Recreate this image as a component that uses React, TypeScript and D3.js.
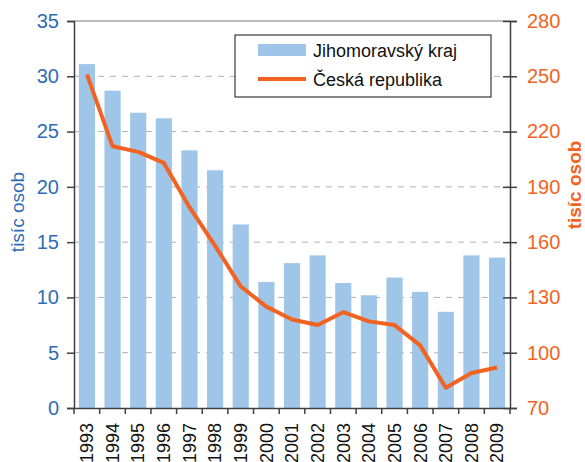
import { useEffect, useRef } from "react"
import { axisBottom, axisLeft, axisRight, scaleBand, scaleLinear, select, line } from "d3"

const years = ["1993", "1994", "1995", "1996", "1997", "1998", "1999", "2000", "2001",
  "2002", "2003", "2004", "2005", "2006", "2007", "2008", "2009"]
const jihomoravsky = [31.1, 28.7, 26.7, 26.2, 23.3, 21.5, 16.6, 11.4, 13.1,
  13.8, 11.3, 10.2, 11.8, 10.5, 8.7, 13.8, 13.6]
const ceskaRepublika = [251, 212, 209, 203, 179, 158, 136, 125, 118,
  115, 122, 117, 115, 104, 81, 89, 92]
const leftTicks = [0, 5, 10, 15, 20, 25, 30, 35]
const rightTicks = [70, 100, 130, 160, 190, 220, 250, 280]

const BLUE_BAR = "#9fc5e8"
const BLUE_TEXT = "#2e6cb5"
const ORANGE = "#f26322"
const FONT = "Arial, 'Liberation Sans', sans-serif"

export default function App() {
  const ref = useRef<SVGSVGElement>(null)
  const margin = { top: 21, right: 75, bottom: 54, left: 74 }
  const W = 585
  const H = 462
  const width = W - margin.left - margin.right
  const height = H - margin.top - margin.bottom

  const x = scaleBand().domain(years).range([0, width]).paddingInner(0.37).paddingOuter(0.19)
  const xOuter = scaleBand().domain(years).range([0, width])
  const yL = scaleLinear().domain([0, 35]).range([height, 0])
  const yR = scaleLinear().domain([70, 280]).range([height, 0])

  useEffect(() => {
    const svg = select(ref.current)
    svg.selectAll("*").remove()
    const g = svg.append("g").attr("transform", `translate(${margin.left},${margin.top})`)

    // gridlines
    g.append("g").selectAll("line").data(leftTicks.filter((t) => t > 0 && t < 35)).join("line")
      .attr("x1", 0).attr("x2", width)
      .attr("y1", (d) => yL(d)).attr("y2", (d) => yL(d))
      .attr("stroke", "#b0b0b0").attr("stroke-dasharray", "6,6")
    g.append("line").attr("x1", 0).attr("x2", width).attr("y1", 0).attr("y2", 0)
      .attr("stroke", "#a6a6a6").attr("stroke-width", 1.5)

    // bars
    g.append("g").selectAll("rect").data(years).join("rect")
      .attr("x", (d) => x(d)!)
      .attr("width", x.bandwidth())
      .attr("y", (_, i) => yL(jihomoravsky[i]))
      .attr("height", (_, i) => height - yL(jihomoravsky[i]))
      .attr("fill", BLUE_BAR)

    // line
    const lineGen = line<number>()
      .x((_, i) => x(years[i])! + x.bandwidth() / 2)
      .y((d) => yR(d))
    g.append("path").datum(ceskaRepublika).attr("d", lineGen)
      .attr("fill", "none").attr("stroke", ORANGE).attr("stroke-width", 4)
      .attr("stroke-linejoin", "round")

    // left axis
    const la = g.append("g").call(axisLeft(yL).tickValues(leftTicks).tickSize(7).tickPadding(8))
    la.select(".domain").attr("stroke", "#404040").attr("stroke-width", 1.5)
    la.selectAll(".tick line").attr("stroke", "#404040").attr("stroke-width", 1.5)
    la.selectAll("text").attr("fill", BLUE_TEXT).attr("font-size", 20).attr("font-family", FONT)

    // right axis
    const ra = g.append("g").attr("transform", `translate(${width},0)`)
      .call(axisRight(yR).tickValues(rightTicks).tickSize(7).tickPadding(10))
    ra.select(".domain").attr("stroke", "#404040").attr("stroke-width", 1.5)
    ra.selectAll(".tick line").attr("stroke", "#404040").attr("stroke-width", 1.5).attr("x1", -7)
    ra.selectAll("text").attr("fill", ORANGE).attr("font-size", 20).attr("font-family", FONT)

    // bottom axis: ticks at category boundaries
    const xa = g.append("g").attr("transform", `translate(0,${height})`)
      .call(axisBottom(xOuter).tickSize(0).tickPadding(0))
    xa.select(".domain").attr("stroke", "#404040").attr("stroke-width", 1.5)
    xa.selectAll(".tick text")
      .attr("transform", "rotate(-90)")
      .attr("x", -15).attr("y", 0).attr("dy", "0.35em")
      .attr("text-anchor", "end")
      .attr("fill", "#111").attr("font-size", 18).attr("font-family", FONT)
    xa.append("g").selectAll("line").data(years.concat(["end"])).join("line")
      .attr("x1", (_, i) => i * xOuter.step()).attr("x2", (_, i) => i * xOuter.step())
      .attr("y1", 0).attr("y2", 6)
      .attr("stroke", "#404040").attr("stroke-width", 1.5)

    // axis titles
    svg.append("text").attr("transform", `translate(24,212) rotate(-90)`)
      .attr("text-anchor", "middle").attr("fill", BLUE_TEXT)
      .attr("font-size", 19).attr("font-family", FONT).text("tisíc osob")
    svg.append("text").attr("transform", `translate(581,185) rotate(-90)`)
      .attr("text-anchor", "middle").attr("fill", ORANGE).attr("font-weight", "bold")
      .attr("font-size", 19).attr("font-family", FONT).text("tisíc osob")

    // legend
    const lg = svg.append("g").attr("transform", "translate(235,35)")
    lg.append("rect").attr("width", 256).attr("height", 62).attr("fill", "white")
      .attr("stroke", "#111").attr("stroke-width", 1)
    lg.append("rect").attr("x", 23).attr("y", 9).attr("width", 48).attr("height", 12).attr("fill", BLUE_BAR)
    lg.append("line").attr("x1", 23).attr("x2", 71).attr("y1", 44).attr("y2", 44)
      .attr("stroke", ORANGE).attr("stroke-width", 4)
    lg.append("text").attr("x", 78).attr("y", 22).attr("font-size", 18).attr("font-family", FONT)
      .attr("fill", "#111").text("Jihomoravský kraj")
    lg.append("text").attr("x", 78).attr("y", 51).attr("font-size", 18).attr("font-family", FONT)
      .attr("fill", "#111").text("Česká republika")
  }, [])

  return <svg ref={ref} width={W} height={H} style={{ display: "block", position: "absolute", left: 0, top: 0 }} />
}
